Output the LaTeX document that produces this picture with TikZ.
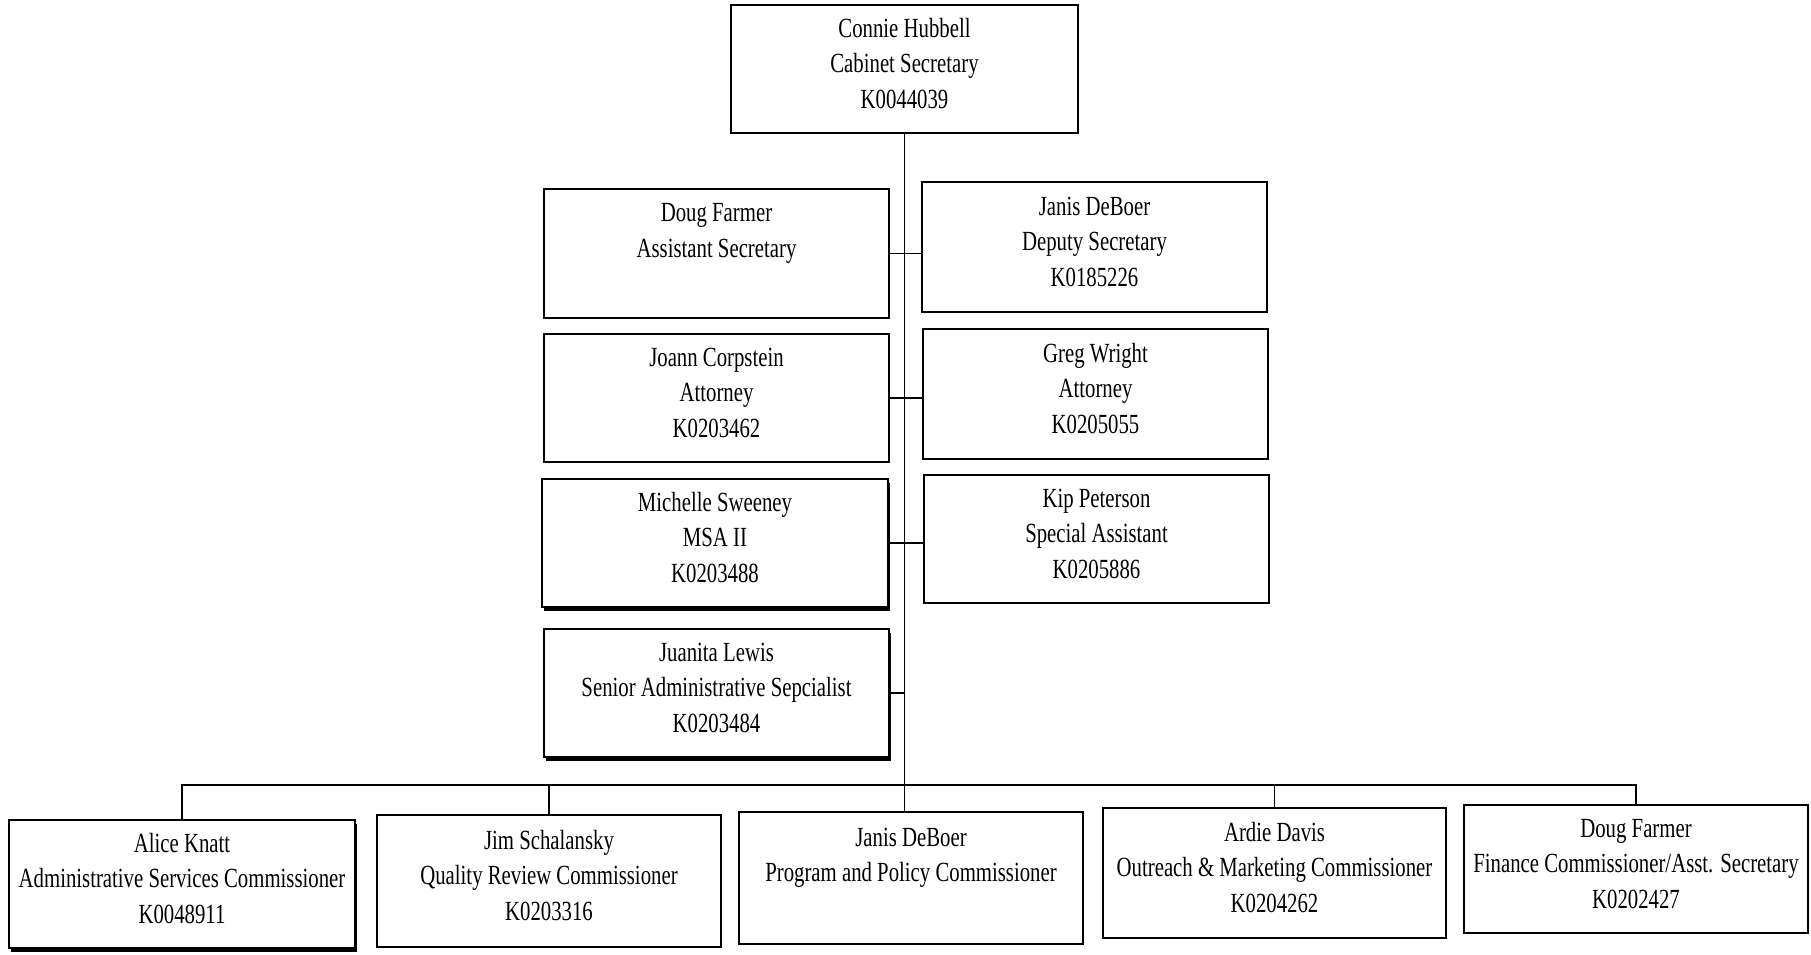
\documentclass[tikz,border=0pt]{standalone}
\usepackage{fontspec}
\setmainfont{Liberation Serif}[FakeStretch=0.75]
\usetikzlibrary{shadows}
\newcommand\boxtext[1]{\raisebox{-3pt}[50pt][50pt]{\begin{tabular}{@{}c@{}}#1\end{tabular}}}
\begin{document}
\begin{tikzpicture}[x=1pt,y=-1pt,
  box/.style={draw=black, fill=white, line width=1.8pt, rectangle, align=center,
    inner sep=0pt, font={\fontsize{27.7}{35.8}\selectfont}},
  shad/.style={general shadow={fill=black, shadow xshift=2pt, shadow yshift=-4pt}},
  wire/.style={draw=black, line width=1.7pt}]
\useasboundingbox (0,0) rectangle (1811,954);
% top
\node[box, minimum width=347pt, minimum height=128pt] (top) at (904.5,69) {\boxtext{Connie Hubbell\\Cabinet Secretary\\K0044039}};
% staff
\node[box, minimum width=345pt, minimum height=129pt] (doug) at (716.5,253.5) {\boxtext{Doug Farmer\\Assistant Secretary\\\strut}};
\node[box, minimum width=345pt, minimum height=130pt] (janis) at (1094.5,247) {\boxtext{Janis DeBoer\\Deputy Secretary\\K0185226}};
\node[box, minimum width=345pt, minimum height=128pt] (joann) at (716.5,398) {\boxtext{Joann Corpstein\\Attorney\\K0203462}};
\node[box, minimum width=345pt, minimum height=130pt] (greg) at (1095.5,394) {\boxtext{Greg Wright\\Attorney\\K0205055}};
\node[box, shad, minimum width=346pt, minimum height=128pt] (michelle) at (715,543) {\boxtext{Michelle Sweeney\\MSA II\\K0203488}};
\node[box, minimum width=345pt, minimum height=128pt] (kip) at (1096.5,539) {\boxtext{Kip Peterson\\Special Assistant\\K0205886}};
\node[box, shad, minimum width=345pt, minimum height=128pt] (juanita) at (716.5,693) {\boxtext{Juanita Lewis\\Senior Administrative Sepcialist\\K0203484}};
% commissioners
\node[box, shad, minimum width=346pt, minimum height=128pt] (alice) at (182,884) {\boxtext{Alice Knatt\\Administrative Services Commissioner\\K0048911}};
\node[box, minimum width=344pt, minimum height=132pt] (jim) at (549,881) {\boxtext{Jim Schalansky\\Quality Review Commissioner\\K0203316}};
\node[box, minimum width=344pt, minimum height=132pt] (jdb) at (911,878) {\boxtext{Janis DeBoer\\Program and Policy Commissioner\\\strut}};
\node[box, minimum width=343pt, minimum height=130pt] (ardie) at (1274.5,873) {\boxtext{Ardie Davis\\Outreach \& Marketing Commissioner\\K0204262}};
\node[box, minimum width=344pt, minimum height=128pt] (dfarm) at (1636,869) {\boxtext{Doug Farmer\\Finance Commissioner/Asst. Secretary\\K0202427}};
% connectors
\coordinate (bus) at (906,785);
\draw[wire] (top.south) -- (top.south |- jdb.north);
\draw[wire] (doug.east) -- (doug.east -| janis.west);
\draw[wire] (joann.east) -- (joann.east -| greg.west);
\draw[wire] (michelle.east) -- (michelle.east -| kip.west);
\draw[wire] (juanita.east) -- (juanita.east -| top.south);
\draw[wire] (alice.north) -- (alice.north |- bus) -- (dfarm.north |- bus) -- (dfarm.north);
\draw[wire] (jim.north) -- (jim.north |- bus);
\draw[wire] (ardie.north) -- (ardie.north |- bus);
\end{tikzpicture}
\end{document}
